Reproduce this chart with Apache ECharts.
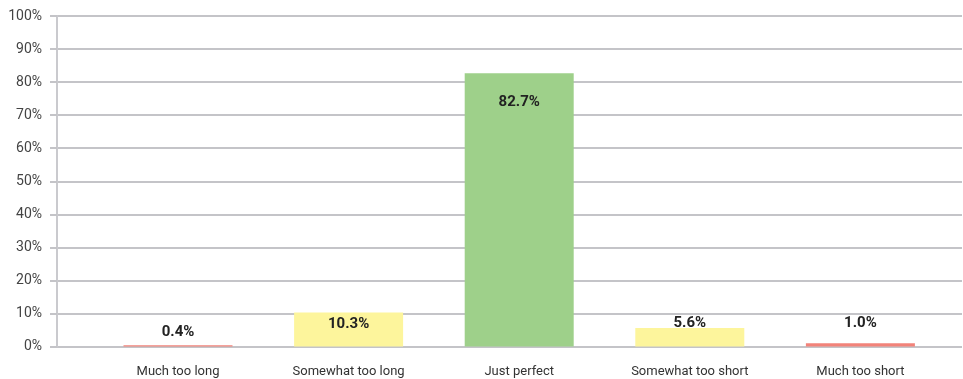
<!DOCTYPE html>
<html>
<head>
<meta charset="utf-8">
<script src="https://cdn.jsdelivr.net/npm/echarts@6/dist/echarts.min.js"></script>
<style>
html,body{margin:0;padding:0;background:#fff;}
#chart{width:963px;height:379px;}
</style>
</head>
<body>
<div id="chart"></div>
<script>
const categories = ['Much too long', 'Somewhat too long', 'Just perfect', 'Somewhat too short', 'Much too short'];
const values = [0.4, 10.3, 82.7, 5.6, 1.0];
const yTicks = [0, 10, 20, 30, 40, 50, 60, 70, 80, 90, 100];

const barColors = ['#f2837a', '#fdf59c', '#9ed08a', '#fdf59c', '#f2837a'];
const labelNudge = [-25, -1, 17, -17, -32];
const FONT = "Roboto, 'DejaVu Sans Condensed', sans-serif";

const chart = echarts.init(document.getElementById('chart'), null, {renderer: 'canvas'});
chart.setOption({
  animation: false,
  backgroundColor: '#ffffff',
  grid: [
    {left: 57, right: 1, top: 16, bottom: 32.5, containLabel: false},
    {left: 92.7, width: 853, top: 16, bottom: 32.5, containLabel: false}
  ],
  xAxis: [
    {gridIndex: 0, type: 'value', show: false, min: 0, max: 1},
    {gridIndex: 1, type: 'category', data: categories,
     axisLine: {show: false}, axisTick: {show: false},
     axisLabel: {interval: 0, margin: 19, color: '#333', fontSize: 13, fontFamily: FONT}}
  ],
  yAxis: [
    {gridIndex: 0, type: 'value', min: yTicks[0], max: yTicks[yTicks.length - 1], interval: yTicks[1] - yTicks[0],
     axisLine: {show: true, lineStyle: {color: '#cacace', width: 2}},
     axisTick: {show: true, length: 7, lineStyle: {color: '#c4c4c8', width: 2}},
     axisLabel: {margin: 15, color: '#444', fontSize: 14, fontFamily: FONT, formatter: v => v + '%'},
     splitLine: {show: true, lineStyle: {color: '#c4c4c8', width: 2}}},
    {gridIndex: 1, type: 'value', min: yTicks[0], max: yTicks[yTicks.length - 1], show: false}
  ],
  series: [{
    type: 'bar',
    xAxisIndex: 1, yAxisIndex: 1,
    barWidth: 109,
    data: values.map((v, i) => ({
      value: v,
      itemStyle: {color: barColors[i]},
      label: {offset: [0, labelNudge[i]]}
    })),
    label: {
      show: true, position: 'insideTop', distance: 5,
      color: '#222', fontWeight: 'bold', fontSize: 15, fontFamily: FONT,
      formatter: p => p.value.toFixed(1) + '%'
    }
  }]
});
</script>
</body>
</html>
